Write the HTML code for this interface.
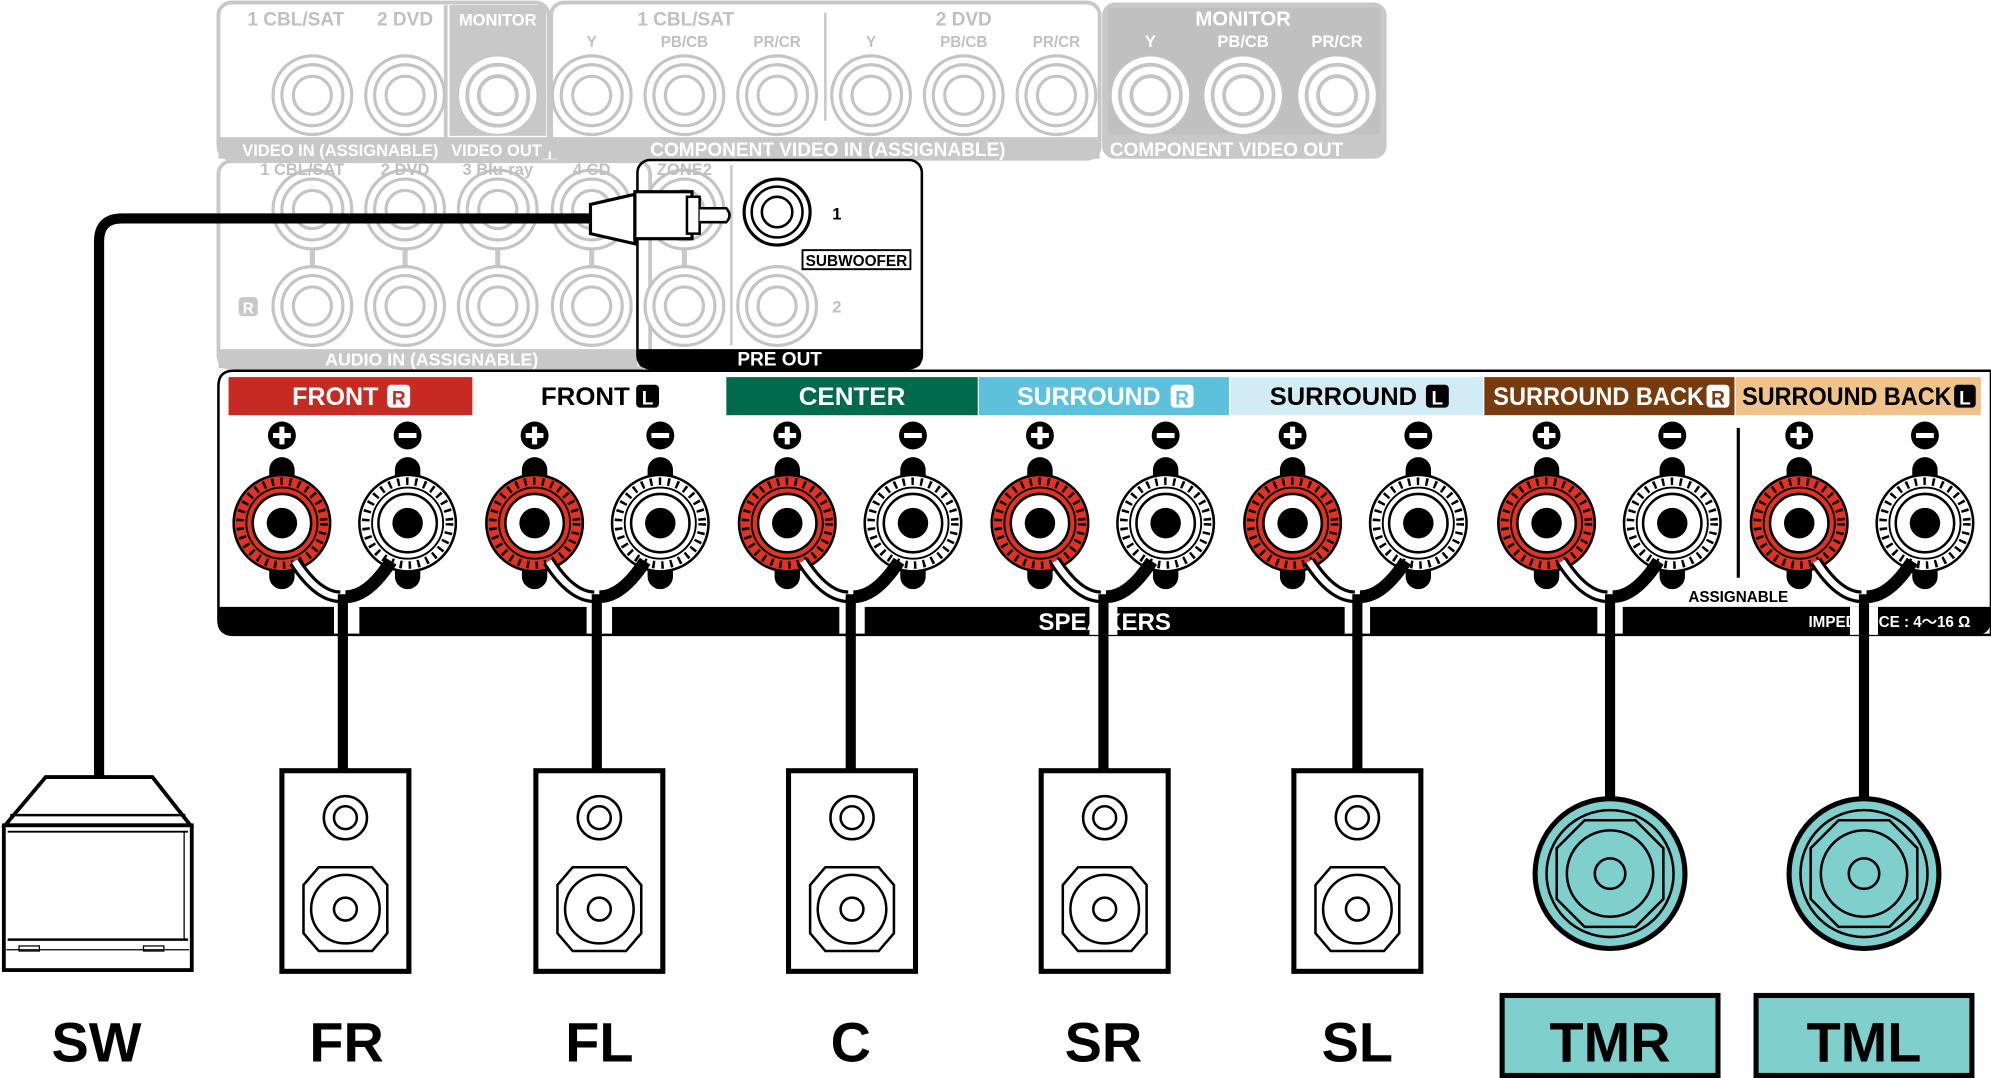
<!DOCTYPE html>
<html><head><meta charset="utf-8"><style>
html,body{margin:0;padding:0;background:#fff;width:1991px;height:1078px;overflow:hidden}
svg{display:block}
text{font-family:"Liberation Sans",sans-serif;font-weight:bold}
</style></head><body>
<svg width="1991" height="1078" viewBox="0 0 1568 849" xmlns="http://www.w3.org/2000/svg">
<defs>
<g id="gj"><circle r="31" fill="#fff" stroke="#c4c4c4" stroke-width="2.5"/><circle r="24" fill="none" stroke="#c4c4c4" stroke-width="2.5"/><circle r="15" fill="none" stroke="#c4c4c4" stroke-width="2.5"/></g>
<g id="gjw"><circle r="31" fill="#fff" stroke="#c4c4c4" stroke-width="1"/><circle r="24" fill="none" stroke="#c4c4c4" stroke-width="3"/><circle r="15" fill="none" stroke="#c4c4c4" stroke-width="3"/></g>
<g id="tp"><rect x="-10" y="-52" width="20" height="104" rx="10" fill="#000"/><circle r="38" fill="#e03324" stroke="#000" stroke-width="2"/><circle r="33" fill="none" stroke="#000" stroke-width="6" stroke-dasharray="2 5"/><circle r="28" fill="#e03324" stroke="#000" stroke-width="1.5"/><circle r="23" fill="#fff" stroke="#000" stroke-width="2"/><circle r="12" fill="#000"/></g>
<g id="tm"><rect x="-10" y="-52" width="20" height="104" rx="10" fill="#000"/><circle r="38" fill="#fff" stroke="#000" stroke-width="2"/><circle r="33" fill="none" stroke="#000" stroke-width="6" stroke-dasharray="2 5"/><circle r="28" fill="#fff" stroke="#000" stroke-width="1.5"/><circle r="23" fill="#fff" stroke="#000" stroke-width="2"/><circle r="12" fill="#000"/></g>
<g id="jmp">
<path d="M-38 30 Q-20 58 -2 58" fill="none" stroke="#000" stroke-width="10"/>
<path d="M-38 30 Q-20 58 -2 58" fill="none" stroke="#fff" stroke-width="5"/>
<path d="M38 30 Q20 58 2 58" fill="none" stroke="#000" stroke-width="10"/>
</g>
<g id="spk"><rect x="-50" y="0" width="100" height="158" fill="#fff" stroke="#000" stroke-width="4"/><circle cx="0" cy="37" r="17" fill="none" stroke="#000" stroke-width="2"/><circle cx="0" cy="37" r="9" fill="none" stroke="#000" stroke-width="2"/><path d="M-21 76 H21 L33 90 V128 L21 142 H-21 L-33 128 V90 Z" fill="none" stroke="#000" stroke-width="2"/><circle cx="0" cy="109" r="27" fill="none" stroke="#000" stroke-width="2"/><circle cx="0" cy="109" r="9" fill="none" stroke="#000" stroke-width="2"/></g>
<g id="tm2"><circle r="59" fill="#7fcfcd" stroke="#000" stroke-width="4"/><circle r="50" fill="none" stroke="#000" stroke-width="2"/><path d="M-20 -42 H20 L42 -20 V20 L20 42 H-20 L-42 20 V-20 Z" fill="none" stroke="#000" stroke-width="2"/><circle r="34" fill="none" stroke="#000" stroke-width="2"/><circle r="12" fill="none" stroke="#000" stroke-width="2"/></g>
<g id="pl"><circle r="11" fill="#000"/><rect x="-7" y="-2" width="14" height="4" fill="#fff"/><rect x="-2" y="-7" width="4" height="14" fill="#fff"/></g>
<g id="mi"><circle r="11" fill="#000"/><rect x="-7" y="-2" width="14" height="4" fill="#fff"/></g>
</defs>

<g fill="none" stroke="#c8c8c8" stroke-width="3">
<rect x="172" y="2" width="260" height="123" rx="10"/>
<rect x="434" y="2" width="432" height="123" rx="10"/>
</g>
<rect x="868" y="2" width="224" height="123" rx="10" fill="#c8c8c8"/>
<rect x="873" y="6" width="214" height="100" fill="#c0c0c0"/>
<rect x="354" y="4" width="76" height="103" fill="#c8c8c8"/>
<rect x="172" y="108" width="260" height="17" fill="#c8c8c8"/>
<rect x="434" y="108" width="432" height="17" fill="#c8c8c8"/>
<line x1="650" y1="10" x2="650" y2="95" stroke="#c8c8c8" stroke-width="2"/>
<line x1="351" y1="4" x2="351" y2="125" stroke="#c8c8c8" stroke-width="3"/>
<g fill="#c0c0c0" font-size="15" text-anchor="middle">
<text x="233" y="20">1 CBL/SAT</text><text x="319" y="20">2 DVD</text>
<text x="540" y="20">1 CBL/SAT</text><text x="759" y="20">2 DVD</text>
<g font-size="12"><text x="466" y="37">Y</text><text x="539" y="37">PB/CB</text><text x="612" y="37">PR/CR</text><text x="686" y="37">Y</text><text x="759" y="37">PB/CB</text><text x="832" y="37">PR/CR</text></g>
</g>
<g fill="#fff" text-anchor="middle" font-size="13">
<text x="392" y="20">MONITOR</text>
<text x="979" y="20" font-size="16">MONITOR</text>
<text x="906" y="37">Y</text><text x="979" y="37">PB/CB</text><text x="1053" y="37">PR/CR</text>
<text x="268" y="123" font-size="13">VIDEO <tspan>IN</tspan> (ASSIGNABLE)</text>
<text x="391" y="123" font-size="13">VIDEO OUT</text>
<text x="652" y="123" font-size="15">COMPONENT VIDEO  IN  (ASSIGNABLE)</text>
<text x="966" y="123" font-size="15">COMPONENT VIDEO  OUT</text>
</g>
<use href="#gj" x="246" y="75"/><use href="#gj" x="319" y="75"/>
<use href="#gjw" x="392" y="75"/>
<use href="#gj" x="466" y="75"/><use href="#gj" x="539" y="75"/><use href="#gj" x="612" y="75"/>
<use href="#gj" x="686" y="75"/><use href="#gj" x="759" y="75"/><use href="#gj" x="832" y="75"/>
<use href="#gjw" x="906" y="75"/><use href="#gjw" x="979" y="75"/><use href="#gjw" x="1053" y="75"/>

<rect x="172" y="127" width="340" height="163" rx="10" fill="none" stroke="#c8c8c8" stroke-width="3"/>
<rect x="172" y="275" width="330" height="15" fill="#c8c8c8"/>
<g stroke="#c8c8c8" stroke-width="4"><line x1="246" y1="190" x2="246" y2="215"/><line x1="319" y1="190" x2="319" y2="215"/><line x1="392" y1="190" x2="392" y2="215"/><line x1="466" y1="190" x2="466" y2="215"/><line x1="539" y1="190" x2="539" y2="215"/></g>
<use href="#gj" x="246" y="165"/><use href="#gj" x="319" y="165"/><use href="#gj" x="392" y="165"/><use href="#gj" x="466" y="165"/><use href="#gj" x="539" y="165"/>
<use href="#gj" x="246" y="241"/><use href="#gj" x="319" y="241"/><use href="#gj" x="392" y="241"/><use href="#gj" x="466" y="241"/><use href="#gj" x="539" y="241"/>
<g fill="#c0c0c0" font-size="13" text-anchor="middle">
<text x="238" y="138">1 CBL/SAT</text><text x="319" y="138">2 DVD</text><text x="392" y="138">3 Blu-ray</text><text x="466" y="138">4 CD</text><text x="539" y="138">ZONE2</text>
</g>
<rect x="188" y="234" width="15" height="15" rx="3" fill="#c8c8c8"/><text x="195.5" y="247" fill="#fff" font-size="12" text-anchor="middle">R</text>
<text x="340" y="288" fill="#fff" font-size="14" text-anchor="middle">AUDIO  IN  (ASSIGNABLE)</text>

<rect x="502" y="126" width="224" height="164" rx="10" fill="none" stroke="#000" stroke-width="2"/>
<path d="M502 275 H726 V282 Q726 290 718 290 H510 Q502 290 502 282 Z" fill="#000"/>
<text x="614" y="288" fill="#fff" font-size="15" text-anchor="middle">PRE OUT</text>
<line x1="576" y1="130" x2="576" y2="272" stroke="#c8c8c8" stroke-width="2"/>
<g transform="translate(612,167)"><circle r="26" fill="#fff" stroke="#000" stroke-width="2.5"/><circle r="20" fill="none" stroke="#000" stroke-width="2"/><circle r="12" fill="none" stroke="#000" stroke-width="2"/></g>
<use href="#gj" x="612" y="241"/>
<text x="659" y="173" font-size="13" text-anchor="middle">1</text>
<text x="659" y="246" font-size="13" fill="#c0c0c0" text-anchor="middle">2</text>
<rect x="632" y="197" width="85" height="15" fill="#fff" stroke="#000" stroke-width="1.5"/>
<text x="674.5" y="209.5" font-size="12" text-anchor="middle" textLength="80" lengthAdjust="spacingAndGlyphs">SUBWOOFER</text>

<path d="M78 612 V190 Q78 172 96 172 H470" fill="none" stroke="#000" stroke-width="8"/>
<path d="M465 161 L500 153 V192 L465 184 Z" fill="#fff" stroke="#000" stroke-width="2.5"/>
<rect x="500" y="151" width="45" height="37" fill="#fff" stroke="#000" stroke-width="2.5"/>
<rect x="541" y="155" width="10" height="29" fill="#fff" stroke="#000" stroke-width="2"/>
<path d="M551 164 H572 Q577 169.5 572 175 H551" fill="#fff" stroke="#000" stroke-width="2"/>

<path d="M184 292 H1568 V500 H184 Q172 500 172 488 V304 Q172 292 184 292 Z" fill="#fff" stroke="#000" stroke-width="2"/>
<rect x="180" y="297" width="192" height="30" fill="#c62a23"/>
<rect x="572" y="297" width="198" height="30" fill="#006b4c"/>
<rect x="771" y="297" width="197" height="30" fill="#5ec1dc"/>
<rect x="969" y="297" width="199" height="30" fill="#d1ecf4"/>
<rect x="1169" y="297" width="197" height="30" fill="#773b0e"/>
<rect x="1367" y="297" width="193" height="30" fill="#efc38a"/>
<g font-size="20">
<text x="230" y="319" fill="#fff" textLength="68" lengthAdjust="spacingAndGlyphs">FRONT</text>
<rect x="305" y="303" width="18" height="18" rx="3" fill="#fff"/><text x="314" y="318.5" font-size="15" fill="#c62a23" text-anchor="middle">R</text>
<text x="426" y="319" textLength="70" lengthAdjust="spacingAndGlyphs">FRONT</text>
<rect x="501" y="303" width="18" height="18" rx="3" fill="#000"/><text x="510" y="318.5" font-size="15" fill="#fff" text-anchor="middle">L</text>
<text x="671" y="319" fill="#fff" text-anchor="middle" textLength="84" lengthAdjust="spacingAndGlyphs">CENTER</text>
<text x="801" y="319" fill="#fff" textLength="113" lengthAdjust="spacingAndGlyphs">SURROUND</text>
<rect x="922" y="303" width="18" height="18" rx="3" fill="#fff"/><text x="931" y="318.5" font-size="15" fill="#5ec1dc" text-anchor="middle">R</text>
<text x="1000" y="319" textLength="116" lengthAdjust="spacingAndGlyphs">SURROUND</text>
<rect x="1123" y="303" width="18" height="18" rx="3" fill="#000"/><text x="1132" y="318.5" font-size="15" fill="#fff" text-anchor="middle">L</text>
<text x="1176" y="319" fill="#fff" textLength="166" lengthAdjust="spacingAndGlyphs">SURROUND BACK</text>
<rect x="1344" y="303" width="18" height="18" rx="3" fill="#fff"/><text x="1353" y="318.5" font-size="15" fill="#773b0e" text-anchor="middle">R</text>
<text x="1372" y="319" textLength="165" lengthAdjust="spacingAndGlyphs">SURROUND BACK</text>
<rect x="1539" y="303" width="17" height="18" rx="3" fill="#000"/><text x="1547.5" y="318.5" font-size="15" fill="#fff" text-anchor="middle">L</text>
</g>
<line x1="1369" y1="337" x2="1369" y2="455" stroke="#000" stroke-width="2.5"/>
<text x="1369" y="474" font-size="12" text-anchor="middle">ASSIGNABLE</text>

<path d="M172 478 H263 V500 H184 Q172 500 172 488 Z" fill="#000"/>
<rect x="283" y="478" width="179" height="22" fill="#000"/>
<rect x="482" y="478" width="179" height="22" fill="#000"/>
<rect x="681" y="478" width="378" height="22" fill="#000"/>
<rect x="1079" y="478" width="179" height="22" fill="#000"/>
<path d="M1278 478 H1568 V488 Q1568 500 1556 500 H1278 Z" fill="#000"/>
<text x="870" y="496" font-size="19" fill="#fff" text-anchor="middle">SPEAKERS</text>
<text x="1488" y="494" font-size="12" fill="#fff" text-anchor="middle">IMPEDANCE : 4～16 Ω</text>
<rect x="858" y="478" width="22" height="22" fill="#fff"/>
<rect x="1457" y="478" width="22" height="22" fill="#fff"/>

<g>
<use href="#pl" x="222" y="343"/><use href="#mi" x="321" y="343"/><use href="#tp" x="222" y="412"/><use href="#tm" x="321" y="412"/><use href="#jmp" x="270" y="412"/>
<use href="#pl" x="421" y="343"/><use href="#mi" x="520" y="343"/><use href="#tp" x="421" y="412"/><use href="#tm" x="520" y="412"/><use href="#jmp" x="470" y="412"/>
<use href="#pl" x="620" y="343"/><use href="#mi" x="719" y="343"/><use href="#tp" x="620" y="412"/><use href="#tm" x="719" y="412"/><use href="#jmp" x="670" y="412"/>
<use href="#pl" x="819" y="343"/><use href="#mi" x="918" y="343"/><use href="#tp" x="819" y="412"/><use href="#tm" x="918" y="412"/><use href="#jmp" x="869" y="412"/>
<use href="#pl" x="1018" y="343"/><use href="#mi" x="1117" y="343"/><use href="#tp" x="1018" y="412"/><use href="#tm" x="1117" y="412"/><use href="#jmp" x="1069" y="412"/>
<use href="#pl" x="1218" y="343"/><use href="#mi" x="1317" y="343"/><use href="#tp" x="1218" y="412"/><use href="#tm" x="1317" y="412"/><use href="#jmp" x="1268" y="412"/>
<use href="#pl" x="1417" y="343"/><use href="#mi" x="1516" y="343"/><use href="#tp" x="1417" y="412"/><use href="#tm" x="1516" y="412"/><use href="#jmp" x="1468" y="412"/>
</g>

<g stroke="#000" stroke-width="8">
<line x1="270" y1="468" x2="270" y2="609"/><line x1="470" y1="468" x2="470" y2="609"/><line x1="670" y1="468" x2="670" y2="609"/>
<line x1="869" y1="468" x2="869" y2="609"/><line x1="1069" y1="468" x2="1069" y2="609"/>
<line x1="1268" y1="468" x2="1268" y2="630"/><line x1="1468" y1="468" x2="1468" y2="630"/>
</g>

<use href="#spk" x="272" y="607"/><use href="#spk" x="472" y="607"/><use href="#spk" x="671" y="607"/><use href="#spk" x="870" y="607"/><use href="#spk" x="1069" y="607"/>
<use href="#tm2" x="1268" y="688"/><use href="#tm2" x="1468" y="688"/>

<path d="M36 612 H120 L150 650 H4 Z" fill="#fff" stroke="#000" stroke-width="3"/>
<line x1="8" y1="642" x2="146" y2="642" stroke="#000" stroke-width="2"/>
<rect x="3" y="650" width="148" height="114" fill="#fff" stroke="#000" stroke-width="3"/>
<line x1="6" y1="655" x2="148" y2="655" stroke="#000" stroke-width="1.5"/>
<line x1="6" y1="740" x2="148" y2="740" stroke="#000" stroke-width="2"/>
<line x1="5" y1="748" x2="149" y2="748" stroke="#000" stroke-width="1"/>
<line x1="145" y1="655" x2="145" y2="740" stroke="#000" stroke-width="1"/>
<rect x="15" y="745" width="16" height="4" fill="none" stroke="#000" stroke-width="1"/>
<rect x="113" y="745" width="16" height="4" fill="none" stroke="#000" stroke-width="1"/>

<g font-size="44" text-anchor="middle">
<text x="76" y="836">SW</text><text x="273" y="836">FR</text><text x="472" y="836">FL</text><text x="670" y="836">C</text><text x="869" y="836">SR</text><text x="1069" y="836">SL</text>
</g>
<rect x="1183" y="784" width="170" height="63" fill="#7fcfcd" stroke="#000" stroke-width="4"/>
<rect x="1383" y="784" width="170" height="63" fill="#7fcfcd" stroke="#000" stroke-width="4"/>
<g font-size="44" text-anchor="middle"><text x="1268" y="836">TMR</text><text x="1468" y="836">TML</text></g>
</svg>
</body></html>
